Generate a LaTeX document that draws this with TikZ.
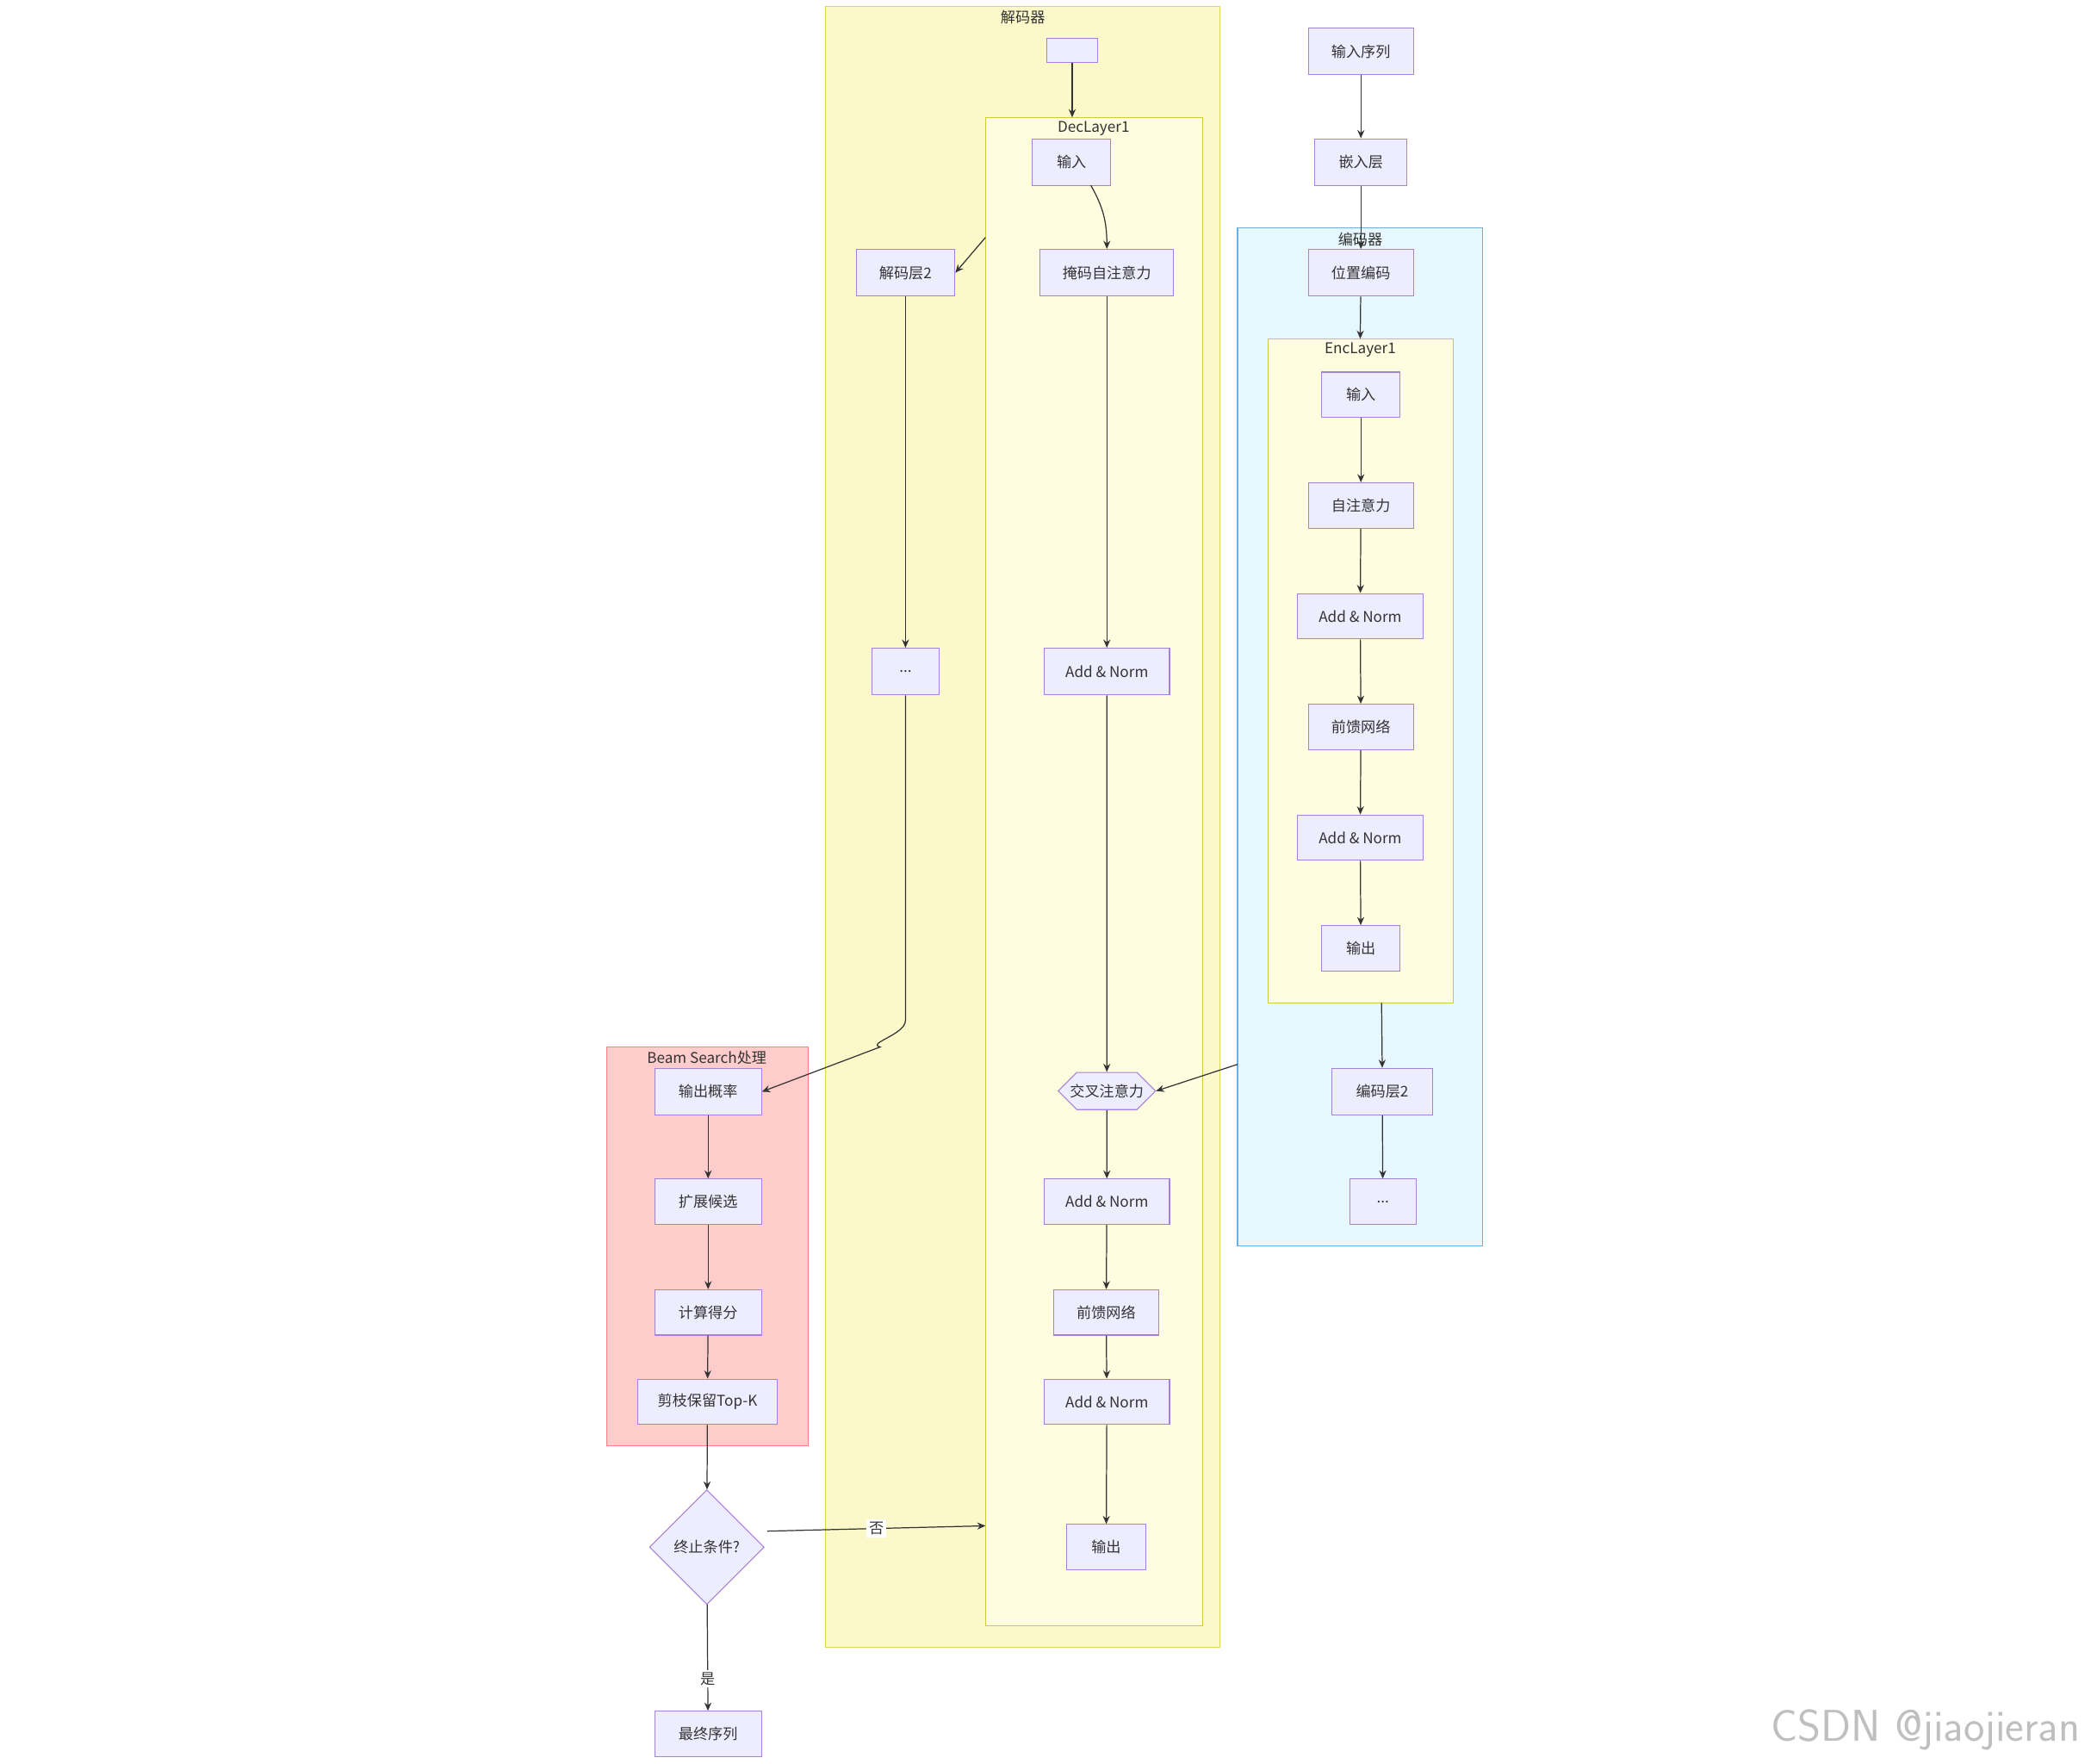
\documentclass[tikz,border=0pt]{standalone}
\usepackage{fontspec}
\setmainfont{Noto Sans CJK SC}
\usetikzlibrary{arrows.meta,shapes.geometric,shapes.misc}
\newcommand\bx[6]{\node[box,minimum width={(#4-#2)*0.02cm},minimum height={(#5-#3)*0.02cm}] (#1) at ({(#2+#4)/2},{(#3+#5)/2}) {#6};}
\begin{document}
\begin{tikzpicture}[x=0.02cm,y=-0.02cm,
 txt/.style={font=\fontsize{6.3}{7}\selectfont,text=black!80,inner sep=1pt},
 box/.style={txt,draw=violet!60!blue!50,fill=blue!7,inner sep=0pt,line width=0.4pt},
 ar/.style={draw=black!80,line width=0.45pt,-{Stealth[length=3.5pt,width=3pt]}}]
\useasboundingbox (0,0) rectangle (1568,1322);
% clusters
\draw[fill=olive!18!yellow!20,draw=olive!50!yellow!60] (619,5) rectangle (915,1235);
\node[txt,below] at (767,6) {解码器};
\draw[fill=yellow!12,draw=olive!60!yellow!70] (739,88) rectangle (902,1219);
\node[txt,below] at (820,89) {DecLayer1};
\draw[fill=cyan!10,draw=cyan!70!blue!60] (928,171) rectangle (1112,934);
\node[txt,below] at (1020,172) {编码器};
\draw[fill=yellow!12,draw=olive!60!yellow!70] (951,254) rectangle (1090,752);
\node[txt,below] at (1020,255) {EncLayer1};
\draw[fill=red!20,draw=red!50] (455,785) rectangle (606,1084);
\node[txt,below] at (530,786) {Beam Search处理};
\coordinate (decL) at (739,178);
\coordinate (decT) at (804,88);
\coordinate (encL) at (928,798);
\coordinate (encB) at (1036,752);
\coordinate (decIn) at (739,1144);
\coordinate (encT) at (1020,254);
% decoder nodes
\bx{e0}{785}{29}{823}{47}{}
\bx{din}{774}{104}{833}{139}{输入}
\bx{mask}{780}{187}{880}{222}{掩码自注意力}
\bx{dan1}{783}{486}{877}{521}{Add \& Norm}
\node[txt,draw=violet!60!blue!50,fill=blue!7,chamfered rectangle,chamfered rectangle xsep=5pt,chamfered rectangle ysep=4pt,chamfered rectangle corners={north east,south east,north west,south west},inner xsep=1pt,minimum height=25*0.02cm,minimum width=73*0.02cm] (cross) at (830,818) {交叉注意力};
\bx{dan2}{783}{884}{877}{918}{Add \& Norm}
\bx{dff}{790}{967}{869}{1001}{前馈网络}
\bx{dan3}{783}{1034}{877}{1068}{Add \& Norm}
\bx{dout}{800}{1143}{859}{1177}{输出}
\bx{dl2}{642}{187}{716}{222}{解码层2}
\bx{ddots}{654}{486}{704}{521}{...}
% encoder
\bx{seq}{981}{21}{1060}{56}{输入序列}
\bx{emb}{986}{104}{1055}{139}{嵌入层}
\bx{pos}{981}{187}{1060}{222}{位置编码}
\bx{ein}{991}{279}{1050}{313}{输入}
\bx{esa}{981}{362}{1060}{396}{自注意力}
\bx{ean1}{973}{445}{1067}{479}{Add \& Norm}
\bx{eff}{981}{528}{1060}{562}{前馈网络}
\bx{ean2}{973}{611}{1067}{645}{Add \& Norm}
\bx{eout}{991}{694}{1050}{728}{输出}
\bx{el2}{999}{801}{1074}{836}{编码层2}
\bx{edots}{1012}{884}{1062}{918}{...}
% beam
\bx{prob}{491}{801}{571}{836}{输出概率}
\bx{ext}{491}{884}{571}{918}{扩展候选}
\bx{score}{491}{967}{571}{1001}{计算得分}
\bx{prune}{478}{1034}{583}{1068}{剪枝保留Top-K}
\node[txt,draw=violet!60!blue!50,fill=blue!7,diamond,inner sep=0pt,minimum width=86*0.02cm,minimum height=86*0.02cm] (stop) at (530,1160) {终止条件?};
\bx{final}{491}{1283}{571}{1317}{最终序列}
% edges
\draw[ar] (e0) -- (decT);
\draw[ar] (818,139) to[out=-60,in=90] (mask.north);
\draw[ar] (mask) -- (dan1);
\draw[ar] (dan1) -- (cross);
\draw[ar] (cross) -- (dan2);
\draw[ar] (dan2) -- (dff);
\draw[ar] (dff) -- (dan3);
\draw[ar] (dan3) -- (dout);
\draw[ar] (decL) -- (dl2.east);
\draw[ar] (dl2) -- (ddots);
\draw[ar] (ddots.south) -- (679,765) to[out=-90,in=165] (660,785) -- (prob.east);
\draw[ar] (seq) -- (emb);
\draw[ar] (emb) -- (pos);
\draw[ar] (pos) -- (encT);
\draw[ar] (ein) -- (esa);
\draw[ar] (esa) -- (ean1);
\draw[ar] (ean1) -- (eff);
\draw[ar] (eff) -- (ean2);
\draw[ar] (ean2) -- (eout);
\draw[ar] (encB) -- (el2.north);
\draw[ar] (el2) -- (edots);
\draw[ar] (encL) -- (cross.east);
\draw[ar] (prob) -- (ext);
\draw[ar] (ext) -- (score);
\draw[ar] (score) -- (prune);
\draw[ar] (prune) -- (stop);
\draw[ar] (stop.east) ++(2,-12) -- node[txt,fill=white,pos=0.5] {否} (decIn);
\draw[ar] (stop) -- node[txt,fill=white,pos=0.7] {是} (final);
\node[font=\fontsize{19}{20}\selectfont\sffamily,text=black!25,anchor=east] at (1566,1297) {CSDN @jiaojieran};
\end{tikzpicture}
\end{document}
